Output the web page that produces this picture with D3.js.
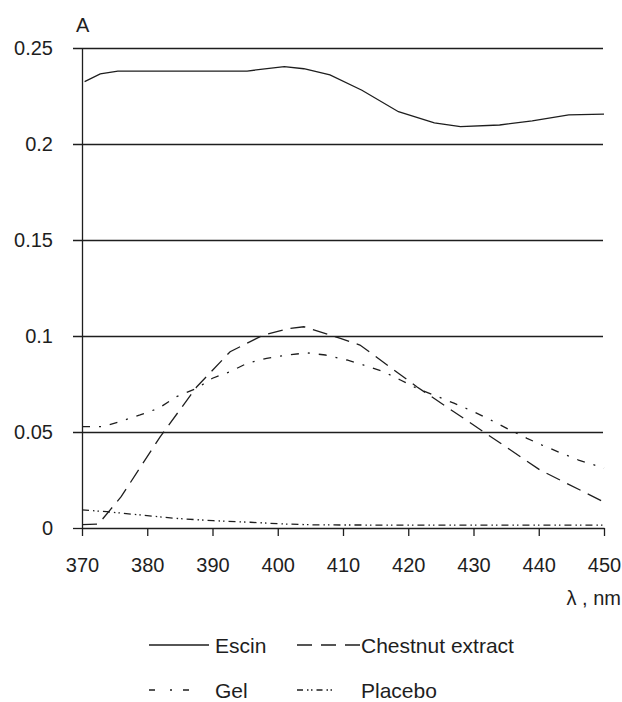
<!DOCTYPE html>
<html>
<head>
<meta charset="utf-8">
<script src="https://cdn.jsdelivr.net/npm/d3@7"></script>
<style>
  html, body { margin: 0; padding: 0; background: #fff; }
  svg { display: block; font-family: "Liberation Sans", Arial, sans-serif; }
</style>
</head>
<body>
<svg id="chart" width="622" height="702"></svg>
<script>
// absorbance spectra: [wavelength nm, A]
const escin = [
  [370.4, 0.2325], [372.8, 0.2365], [375.5, 0.238], [395.3, 0.238], [401, 0.2403],
  [404, 0.2392], [408, 0.236], [412.9, 0.228], [418.5, 0.2168], [424, 0.211],
  [428, 0.209], [434, 0.2099], [439, 0.212], [444.6, 0.2152], [450, 0.2156]
];
const chestnut = [
  [370, 0.0018], [372.5, 0.002], [376, 0.0163], [382, 0.0476], [387.6, 0.0736],
  [392.7, 0.0918], [397.8, 0.1005], [401.9, 0.104], [404, 0.1048], [409.6, 0.0988],
  [412.6, 0.0953], [421.3, 0.0736], [431.5, 0.0502], [440.2, 0.0302], [450.2, 0.0132]
];
const gel = [
  [370, 0.0528], [373.3, 0.0528], [375.8, 0.0554], [378.9, 0.0589], [381.7, 0.0623],
  [384.5, 0.0684], [387.6, 0.0728], [390, 0.078], [392.7, 0.0814], [395.3, 0.0858],
  [398.3, 0.0884], [401.4, 0.0901], [404.5, 0.0912], [407.3, 0.0901], [410.6, 0.0875],
  [413.1, 0.0849], [416.2, 0.0814], [418.8, 0.0771], [421.3, 0.0728], [427, 0.065],
  [429.8, 0.0609], [432.6, 0.0563], [435.1, 0.0519], [438.2, 0.0467], [440.5, 0.0432],
  [443.3, 0.0392], [446.1, 0.0354], [450, 0.0312]
];
const placebo = [
  [370, 0.0094], [373.8, 0.0085], [378.9, 0.0068], [384, 0.0051], [390.1, 0.0038],
  [395.8, 0.003], [400.9, 0.0021], [406, 0.0016], [420, 0.0015], [435, 0.0015], [450, 0.0015]
];
const seriesNames = ['Escin', 'Chestnut extract', 'Gel', 'Placebo'];
const xTicks = [370, 380, 390, 400, 410, 420, 430, 440, 450];
const yTicks = [0, 0.05, 0.1, 0.15, 0.2, 0.25];
const yTickLabels = ['0', '0.05', '0.1', '0.15', '0.2', '0.25'];

const INK = '#1e1e1e';
const DASH = ['none', '15,8', '8,9,2,9', '7,4,1.5,3,1.5,4'];
const LEGEND_DASH = ['none', '15,9', '6,15,2,11', '6,4,1.5,2.5,1.5,4'];

const svg = d3.select('#chart');
const x = d3.scaleLinear().domain([370, 450]).range([82, 604]);
const y = d3.scaleLinear().domain([0, 0.25]).range([528, 48]);

// y axis + horizontal grid
svg.append('g')
  .attr('transform', `translate(${x(370)},0)`)
  .call(d3.axisLeft(y).tickValues(yTicks).tickFormat((d, i) => yTickLabels[i]).tickSizeOuter(0).tickPadding(23))
  .call(g => g.select('.domain').attr('stroke', INK).attr('stroke-width', 1.3))
  .call(g => g.selectAll('.tick line')
    .attr('x1', -9).attr('x2', d => d === 0 ? 0 : x(450) - x(370) - 1)
    .attr('stroke', INK).attr('stroke-width', 1.3))
  .call(g => g.selectAll('.tick text')
    .attr('fill', INK).style('font-size', '20px').attr('font-family', null));

// x axis
svg.append('g')
  .attr('transform', `translate(0,${y(0)})`)
  .call(d3.axisBottom(x).tickValues(xTicks).tickSize(8).tickSizeOuter(0).tickPadding(22))
  .call(g => g.select('.domain').attr('stroke', INK).attr('stroke-width', 1.3))
  .call(g => g.selectAll('.tick line').attr('stroke', INK).attr('stroke-width', 1.3))
  .call(g => g.selectAll('.tick text')
    .attr('fill', INK).style('font-size', '20px').attr('font-family', null));

svg.append('text')
  .attr('x', 76).attr('y', 32)
  .attr('fill', INK).style('font-size', '20px')
  .text('A');

svg.append('text')
  .attr('x', 621).attr('y', 605)
  .attr('text-anchor', 'end')
  .attr('fill', INK).style('font-size', '20px')
  .text('λ , nm');

const line = d3.line().x(d => x(d[0])).y(d => y(d[1]));
[escin, chestnut, gel, placebo].forEach((data, i) => {
  svg.append('path')
    .datum(data)
    .attr('d', line)
    .attr('fill', 'none')
    .attr('stroke', INK)
    .attr('stroke-width', 1.3)
    .attr('stroke-dasharray', DASH[i]);
});

// legend, 2 x 2
const legend = svg.append('g');
const legendLen = [60, 63, 40, 39];
seriesNames.forEach((name, i) => {
  const col = i % 2, row = Math.floor(i / 2);
  const lx = col === 0 ? 149 : 297;
  const ly = row === 0 ? 645 : 690;
  legend.append('line')
    .attr('x1', lx).attr('x2', lx + legendLen[i])
    .attr('y1', ly).attr('y2', ly)
    .attr('stroke', INK).attr('stroke-width', 1.3)
    .attr('stroke-dasharray', LEGEND_DASH[i]);
  legend.append('text')
    .attr('x', col === 0 ? 215 : 361)
    .attr('y', ly + 8)
    .attr('fill', INK)
    .style('font-size', '21px')
    .text(name);
});
</script>
</body>
</html>
